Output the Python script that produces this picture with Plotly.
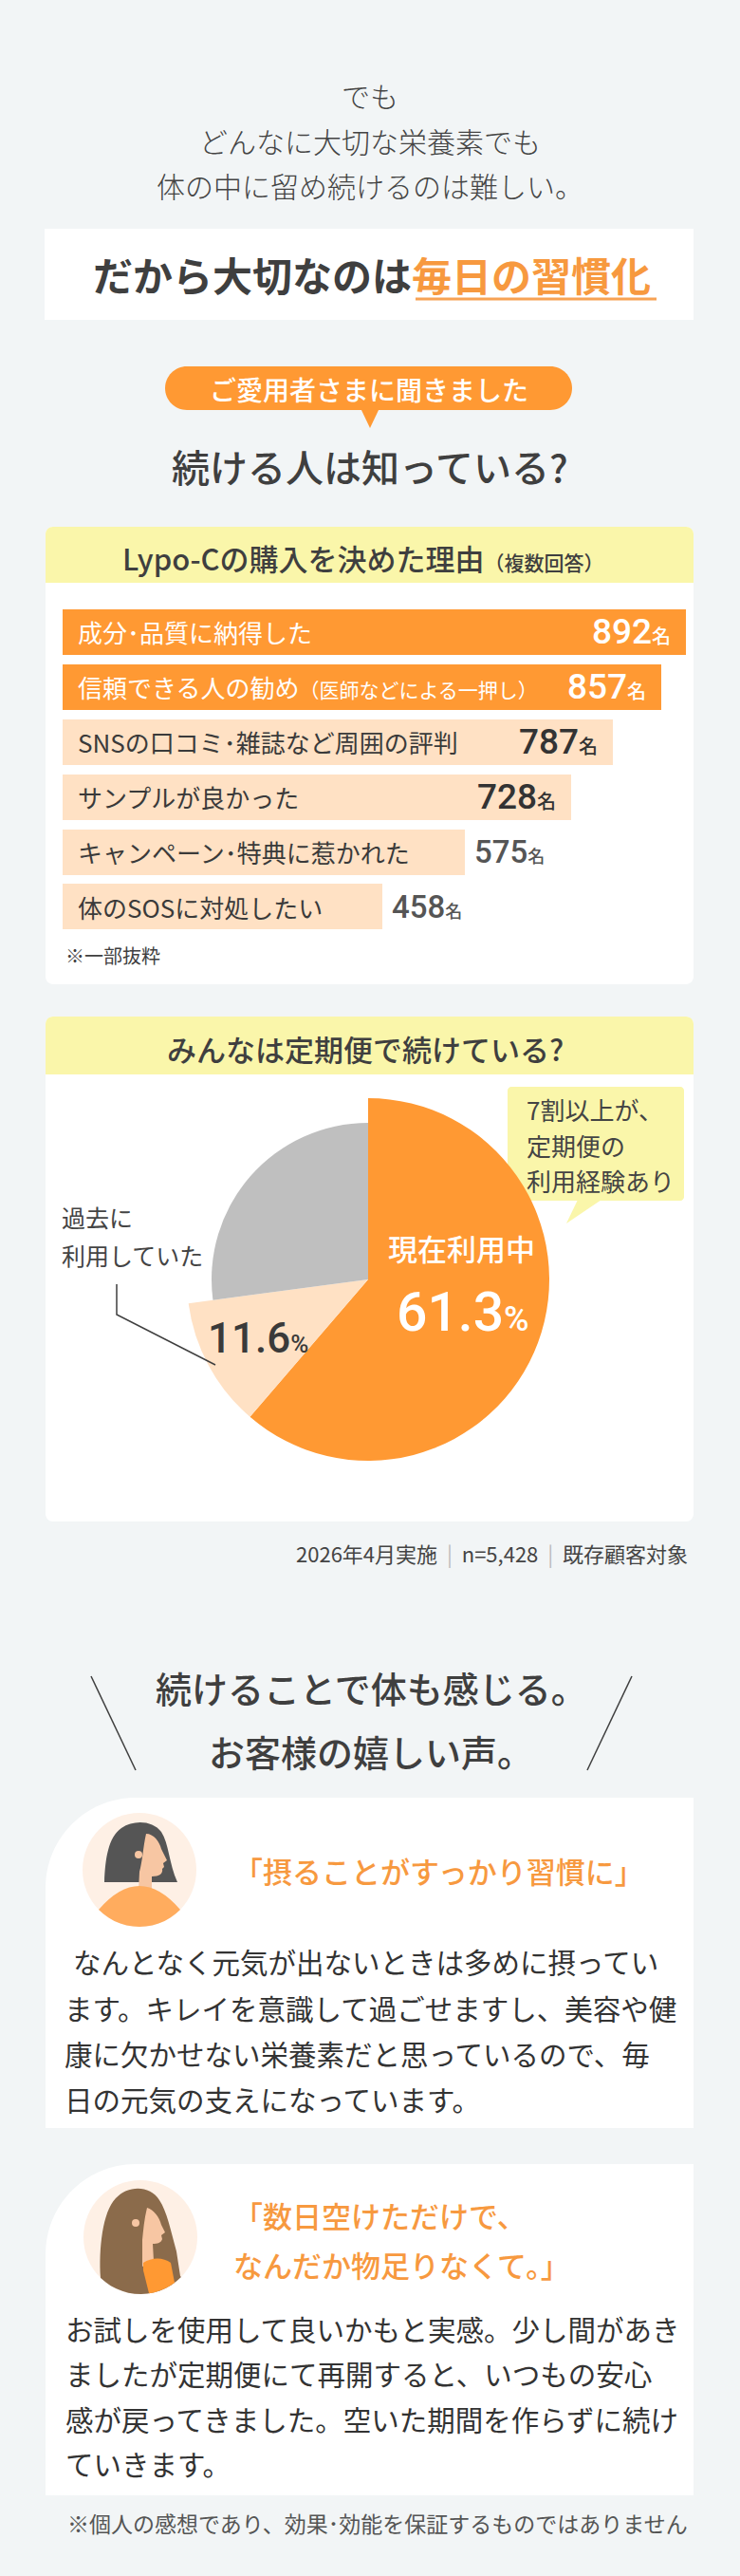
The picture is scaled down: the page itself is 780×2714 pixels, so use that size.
import math
import plotly.graph_objects as go

W, H = 780, 2714

# ---- data ----
reason_labels = ["成分･品質に納得した", "信頼できる人の勧め", "SNSの口コミ･雑誌など周囲の評判",
                 "サンプルが良かった", "キャンペーン･特典に惹かれた", "体のSOSに対処したい"]
reason_notes = ["", "（医師などによる一押し）", "", "", "", ""]
reason_counts = [892, 857, 787, 728, 575, 458]

pie_labels = ["現在利用中", "過去に利用していた", "未利用"]
pie_values = [61.3, 11.6, 27.1]

intro_lines = ["でも", "どんなに大切な栄養素でも", "体の中に留め続けるのは難しい。"]
voice1_quote = ["「摂ることがすっかり習慣に」"]
voice1_body = ["なんとなく元気が出ないときは多めに摂ってい",
               "ます。キレイを意識して過ごせますし、美容や健",
               "康に欠かせない栄養素だと思っているので、毎",
               "日の元気の支えになっています。"]
voice2_quote = ["「数日空けただけで、", "なんだか物足りなくて。」"]
voice2_body = ["お試しを使用して良いかもと実感。少し間があき",
               "ましたが定期便にて再開すると、いつもの安心",
               "感が戻ってきました。空いた期間を作らずに続け",
               "ていきます。"]

# ---- colours / fonts ----
BG = "#F2F5F6"
ORANGE = "#FF9933"
PEACH = "#FFE1C4"
GRAY = "#BFBFBF"
YELLOW = "#FAF6AA"
OTXT = "#F7993F"
TXT = "#3F3F3F"
JP = "Noto Sans CJK JP"
NUM = "Roboto, Noto Sans CJK JP"


def X(x):
    return x / W


def Y(y):
    return 1 - y / H


def pt(x, y):
    return f"{X(x):.5f},{Y(y):.5f}"


def rrect(x0, y0, x1, y1, tl=0, tr=0, br=0, bl=0):
    k = 0.5523
    s = f"M{pt(x0 + tl, y0)} L{pt(x1 - tr, y0)}"
    if tr:
        s += f" C{pt(x1 - tr + k * tr, y0)} {pt(x1, y0 + tr - k * tr)} {pt(x1, y0 + tr)}"
    s += f" L{pt(x1, y1 - br)}"
    if br:
        s += f" C{pt(x1, y1 - br + k * br)} {pt(x1 - br + k * br, y1)} {pt(x1 - br, y1)}"
    s += f" L{pt(x0 + bl, y1)}"
    if bl:
        s += f" C{pt(x0 + bl - k * bl, y1)} {pt(x0, y1 - bl + k * bl)} {pt(x0, y1 - bl)}"
    s += f" L{pt(x0, y0 + tl)}"
    if tl:
        s += f" C{pt(x0, y0 + tl - k * tl)} {pt(x0 + tl - k * tl, y0)} {pt(x0 + tl, y0)}"
    return s + " Z"


def poly(points, close=True):
    s = "M" + " L".join(pt(x, y) for x, y in points)
    return s + (" Z" if close else "")


def arc(cx, cy, r, a0, a1, n=14):
    out = []
    for i in range(n + 1):
        a = math.radians(a0 + (a1 - a0) * i / n)
        out.append((cx + r * math.cos(a), cy + r * math.sin(a)))
    return out


shapes = []


def add_path(path, fill, line=None, lw=0, layer="below"):
    shapes.append(dict(type="path", xref="paper", yref="paper", path=path,
                       fillcolor=fill, line=dict(color=line or "rgba(0,0,0,0)", width=lw),
                       layer=layer))


def add_circle(cx, cy, r, fill):
    shapes.append(dict(type="circle", xref="paper", yref="paper",
                       x0=X(cx - r), x1=X(cx + r), y0=Y(cy + r), y1=Y(cy - r),
                       fillcolor=fill, line=dict(width=0), layer="below"))


def add_line(points, color=TXT, width=1.5):
    shapes.append(dict(type="path", xref="paper", yref="paper", path=poly(points, False),
                       line=dict(color=color, width=width), layer="above"))


# top white box and pill
add_path(rrect(47, 241, 731, 337), "white")
add_path(rrect(174, 386, 603, 432, 23, 23, 23, 23), ORANGE)
add_path(poly([(380, 430), (400, 430), (390, 451)]), ORANGE)
add_line([(438, 315), (692, 315)], "#F7A254", 3)

# cards
add_path(rrect(48, 555, 731, 1037, 8, 8, 8, 8), "white")
add_path(rrect(48, 555, 731, 614, 8, 8, 0, 0), YELLOW)
add_path(rrect(48, 1071, 731, 1603, 8, 8, 8, 8), "white")
add_path(rrect(48, 1071, 731, 1132, 8, 8, 0, 0), YELLOW)
add_path(rrect(535, 1145, 721, 1265, 4, 4, 4, 4), YELLOW)
add_path(poly([(597, 1289), (609, 1264), (634, 1264)]), YELLOW)
add_line([(123, 1353), (123, 1385), (227, 1438)])

# voice section
add_line([(96, 1766), (143, 1865)])
add_line([(666, 1766), (619, 1865)])
add_path(rrect(48, 1894, 731, 2242, 95, 0, 0, 0), "white")
add_path(rrect(48, 2280, 731, 2629, 95, 0, 0, 0), "white")

SKIN = "#F7C6A3"
# avatar 1 (short dark hair)
add_circle(147, 1970, 60, "#FEF0E5")
add_path("M" + pt(110, 1983) + " C" + pt(111, 1958) + " " + pt(114, 1936) + " " + pt(128, 1926)
         + " C" + pt(141, 1917) + " " + pt(161, 1918) + " " + pt(170, 1930)
         + " C" + pt(178, 1942) + " " + pt(178, 1963) + " " + pt(187, 1983) + " Z", "#555555")
add_path("M" + pt(154, 1932) + " C" + pt(162, 1932) + " " + pt(168, 1940) + " " + pt(170, 1948)
         + " L" + pt(176, 1960) + " L" + pt(172, 1963) + " L" + pt(173, 1967) + " L" + pt(171, 1969)
         + " C" + pt(172, 1974) + " " + pt(168, 1977) + " " + pt(160, 1977)
         + " L" + pt(160, 1992) + " L" + pt(146, 1992) + " L" + pt(147, 1972)
         + " C" + pt(150, 1962) + " " + pt(151, 1945) + " " + pt(154, 1932) + " Z", SKIN)
add_circle(146, 1954, 4, SKIN)
add_path("M" + pt(104, 2012) + " Q" + pt(147, 1962) + " " + pt(190, 2012) + " L"
         + " L".join(pt(x, y) for x, y in arc(147, 1970, 60, 44.3, 135.7)) + " Z", "#FFAC5E")

# avatar 2 (long brown hair)
add_circle(148, 2357, 60, "#FEF0E5")
add_path("M" + pt(106, 2400) + " C" + pt(104, 2370) + " " + pt(108, 2330) + " " + pt(122, 2316)
         + " C" + pt(135, 2302) + " " + pt(158, 2302) + " " + pt(168, 2318)
         + " C" + pt(176, 2330) + " " + pt(180, 2350) + " " + pt(186, 2372) + " L" + pt(190, 2398)
         + " L" + " L".join(pt(x, y) for x, y in arc(148, 2357, 60, 44.3, 134.3)) + " Z", "#8B6B4B")
add_path("M" + pt(155, 2326) + " C" + pt(162, 2328) + " " + pt(168, 2336) + " " + pt(170, 2344)
         + " L" + pt(174, 2352) + " L" + pt(170, 2355) + " L" + pt(171, 2359)
         + " C" + pt(170, 2363) + " " + pt(166, 2364) + " " + pt(161, 2364)
         + " L" + pt(162, 2382) + " L" + pt(150, 2388) + " L" + pt(150, 2360)
         + " C" + pt(151, 2350) + " " + pt(152, 2338) + " " + pt(155, 2326) + " Z", SKIN)
add_circle(143, 2342, 4, SKIN)
add_path("M" + pt(151, 2384) + " C" + pt(160, 2378) + " " + pt(172, 2378) + " " + pt(180, 2384)
         + " L" + pt(184, 2405) + " L" + " L".join(pt(x, y) for x, y in arc(148, 2357, 60, 53.1, 81.3, 6))
         + " L" + pt(151, 2392) + " Z", ORANGE)

# ---- annotations ----
ann = []


def text(x, y, s, size, color=TXT, weight=400, anchor="center", family=JP):
    ann.append(dict(xref="paper", yref="paper", x=X(x), y=Y(y), text=s, showarrow=False,
                    xanchor=anchor, yanchor="middle",
                    font=dict(family=family, size=size, color=color, weight=weight)))


for line, yy in zip(intro_lines, [100, 148, 195]):
    text(390, yy, line, 30, "#444444", 300)
text(392, 289, f"だから大切なのは<span style='color:{OTXT}'>毎日の習慣化</span>", 42, TXT, 700)
text(389, 410, "ご愛用者さまに聞きました", 28, "white", 500)
text(390, 491, "続ける人は知っている?", 40, TXT, 500)

text(383, 587, "Lypo-Cの購入を決めた理由<span style='font-size:21px'>（複数回答）</span>", 31, TXT, 500)
text(67, 1007, "※一部抜粋", 20, TXT, 400, "left")

text(385, 1104, "みんなは定期便で続けている?", 31, TXT, 500)
for line, yy in zip(["7割以上が、", "定期便の", "利用経験あり"], [1168, 1206, 1244]):
    text(553, yy, line, 26, "#444444", 400, "left")
text(63, 1282, "過去に", 25, "#444444", 400, "left")
text(63, 1322, "利用していた", 25, "#444444", 400, "left")
text(486, 1314, pie_labels[0], 31, "white", 500)
text(488, 1383, f"{pie_values[0]}<span style='font-size:36px'>%</span>", 57, "white", 500, family=NUM)
text(272, 1410, f"{pie_values[1]}<span style='font-size:26px'>%</span>", 44, "#3A3A3A", 500,
     family="Liberation Sans Narrow, Roboto")
sep = "<span style='color:#BBBBBB'>  |  </span>"
text(727, 1636, f"2026年4月実施{sep}n=5,428{sep}既存顧客対象", 22, "#444444", 400, "right")

text(391, 1777, "続けることで体も感じる。", 38, TXT, 500)
text(391, 1844, "お客様の嬉しい声。", 38, TXT, 500)
text(244, 1970, voice1_quote[0], 31, OTXT, 500, "left")
for i, (line, yy) in enumerate(zip(voice1_body, [2066, 2115, 2163, 2211])):
    text(75 if i == 0 else 66, yy, line, 29.5, "#333333", 400, "left")
for line, yy in zip(voice2_quote, [2333, 2385]):
    text(244, yy, line, 31, OTXT, 500, "left")
for line, yy in zip(voice2_body, [2453, 2500, 2548, 2595]):
    text(67, yy, line, 29.5, "#333333", 400, "left")
text(727, 2658, "※個人の感想であり、効果･効能を保証するものではありません", 23, "#555555", 400, "right")

# ---- bar chart ----
px_per_unit = 657 / 892
bar_colors = [ORANGE, ORANGE, PEACH, PEACH, PEACH, PEACH]
rows = list(range(len(reason_counts)))

for i, (lab, note, v) in enumerate(zip(reason_labels, reason_notes, reason_counts)):
    lab_col = "white" if i < 2 else "#3A3A3A"
    s = lab + (f"<span style='font-size:21px'>{note}</span>" if note else "")
    ann.append(dict(xref="x", yref="y", x=0, y=i, text=s, showarrow=False, xanchor="left",
                    xshift=14, font=dict(family=JP, size=26, color=lab_col, weight=400)))
    if i < 4:
        num_col = "white" if i < 2 else "#333333"
        ann.append(dict(xref="x", yref="y", x=v, y=i, showarrow=False, xanchor="right", xshift=-14,
                        text=f"{v}<span style='font-size:20px; font-family:{JP}'>名</span>",
                        font=dict(family=NUM, size=37, color=num_col, weight=500)))
    else:
        ann.append(dict(xref="x", yref="y", x=v, y=i, showarrow=False, xanchor="left", xshift=8,
                        text=f"{v}<span style='font-size:18px; font-family:{JP}'>名</span>",
                        font=dict(family=NUM, size=33, color="#555555", weight=500)))

fig = go.Figure()
fig.add_trace(go.Bar(x=reason_counts, y=rows, orientation="h", width=48 / 57.9,
                     marker=dict(color=bar_colors, line=dict(width=0)), hoverinfo="skip"))

# ---- pie (two layers so the grey slice sits smaller) ----
big = dict(x=[X(197), X(579)], y=[Y(1539), Y(1157)])
small = dict(x=[X(223), X(553)], y=[Y(1513), Y(1183)])
clear = "rgba(0,0,0,0)"
fig.add_trace(go.Pie(values=pie_values, labels=pie_labels, domain=big, sort=False,
                     direction="clockwise", rotation=0, textinfo="none", hoverinfo="skip",
                     marker=dict(colors=[ORANGE, PEACH, clear], line=dict(width=0))))
fig.add_trace(go.Pie(values=pie_values, labels=pie_labels, domain=small, sort=False,
                     direction="clockwise", rotation=0, textinfo="none", hoverinfo="skip",
                     marker=dict(colors=[clear, clear, GRAY], line=dict(width=0))))

y_top, y_bot = 637, 637 + 6 * 57.9
fig.update_layout(
    width=W, height=H, margin=dict(l=0, r=0, t=0, b=0),
    paper_bgcolor=BG, plot_bgcolor="rgba(0,0,0,0)", showlegend=False,
    xaxis=dict(domain=[X(66), 1], range=[0, (W - 66) / px_per_unit], visible=False, fixedrange=True),
    yaxis=dict(domain=[Y(y_bot), Y(y_top)], range=[5.5, -0.5], visible=False, fixedrange=True),
    shapes=shapes, annotations=ann, bargap=0,
)

fig.write_html("out.html", config={"displayModeBar": False},
               post_script="document.body.style.margin='0';")
